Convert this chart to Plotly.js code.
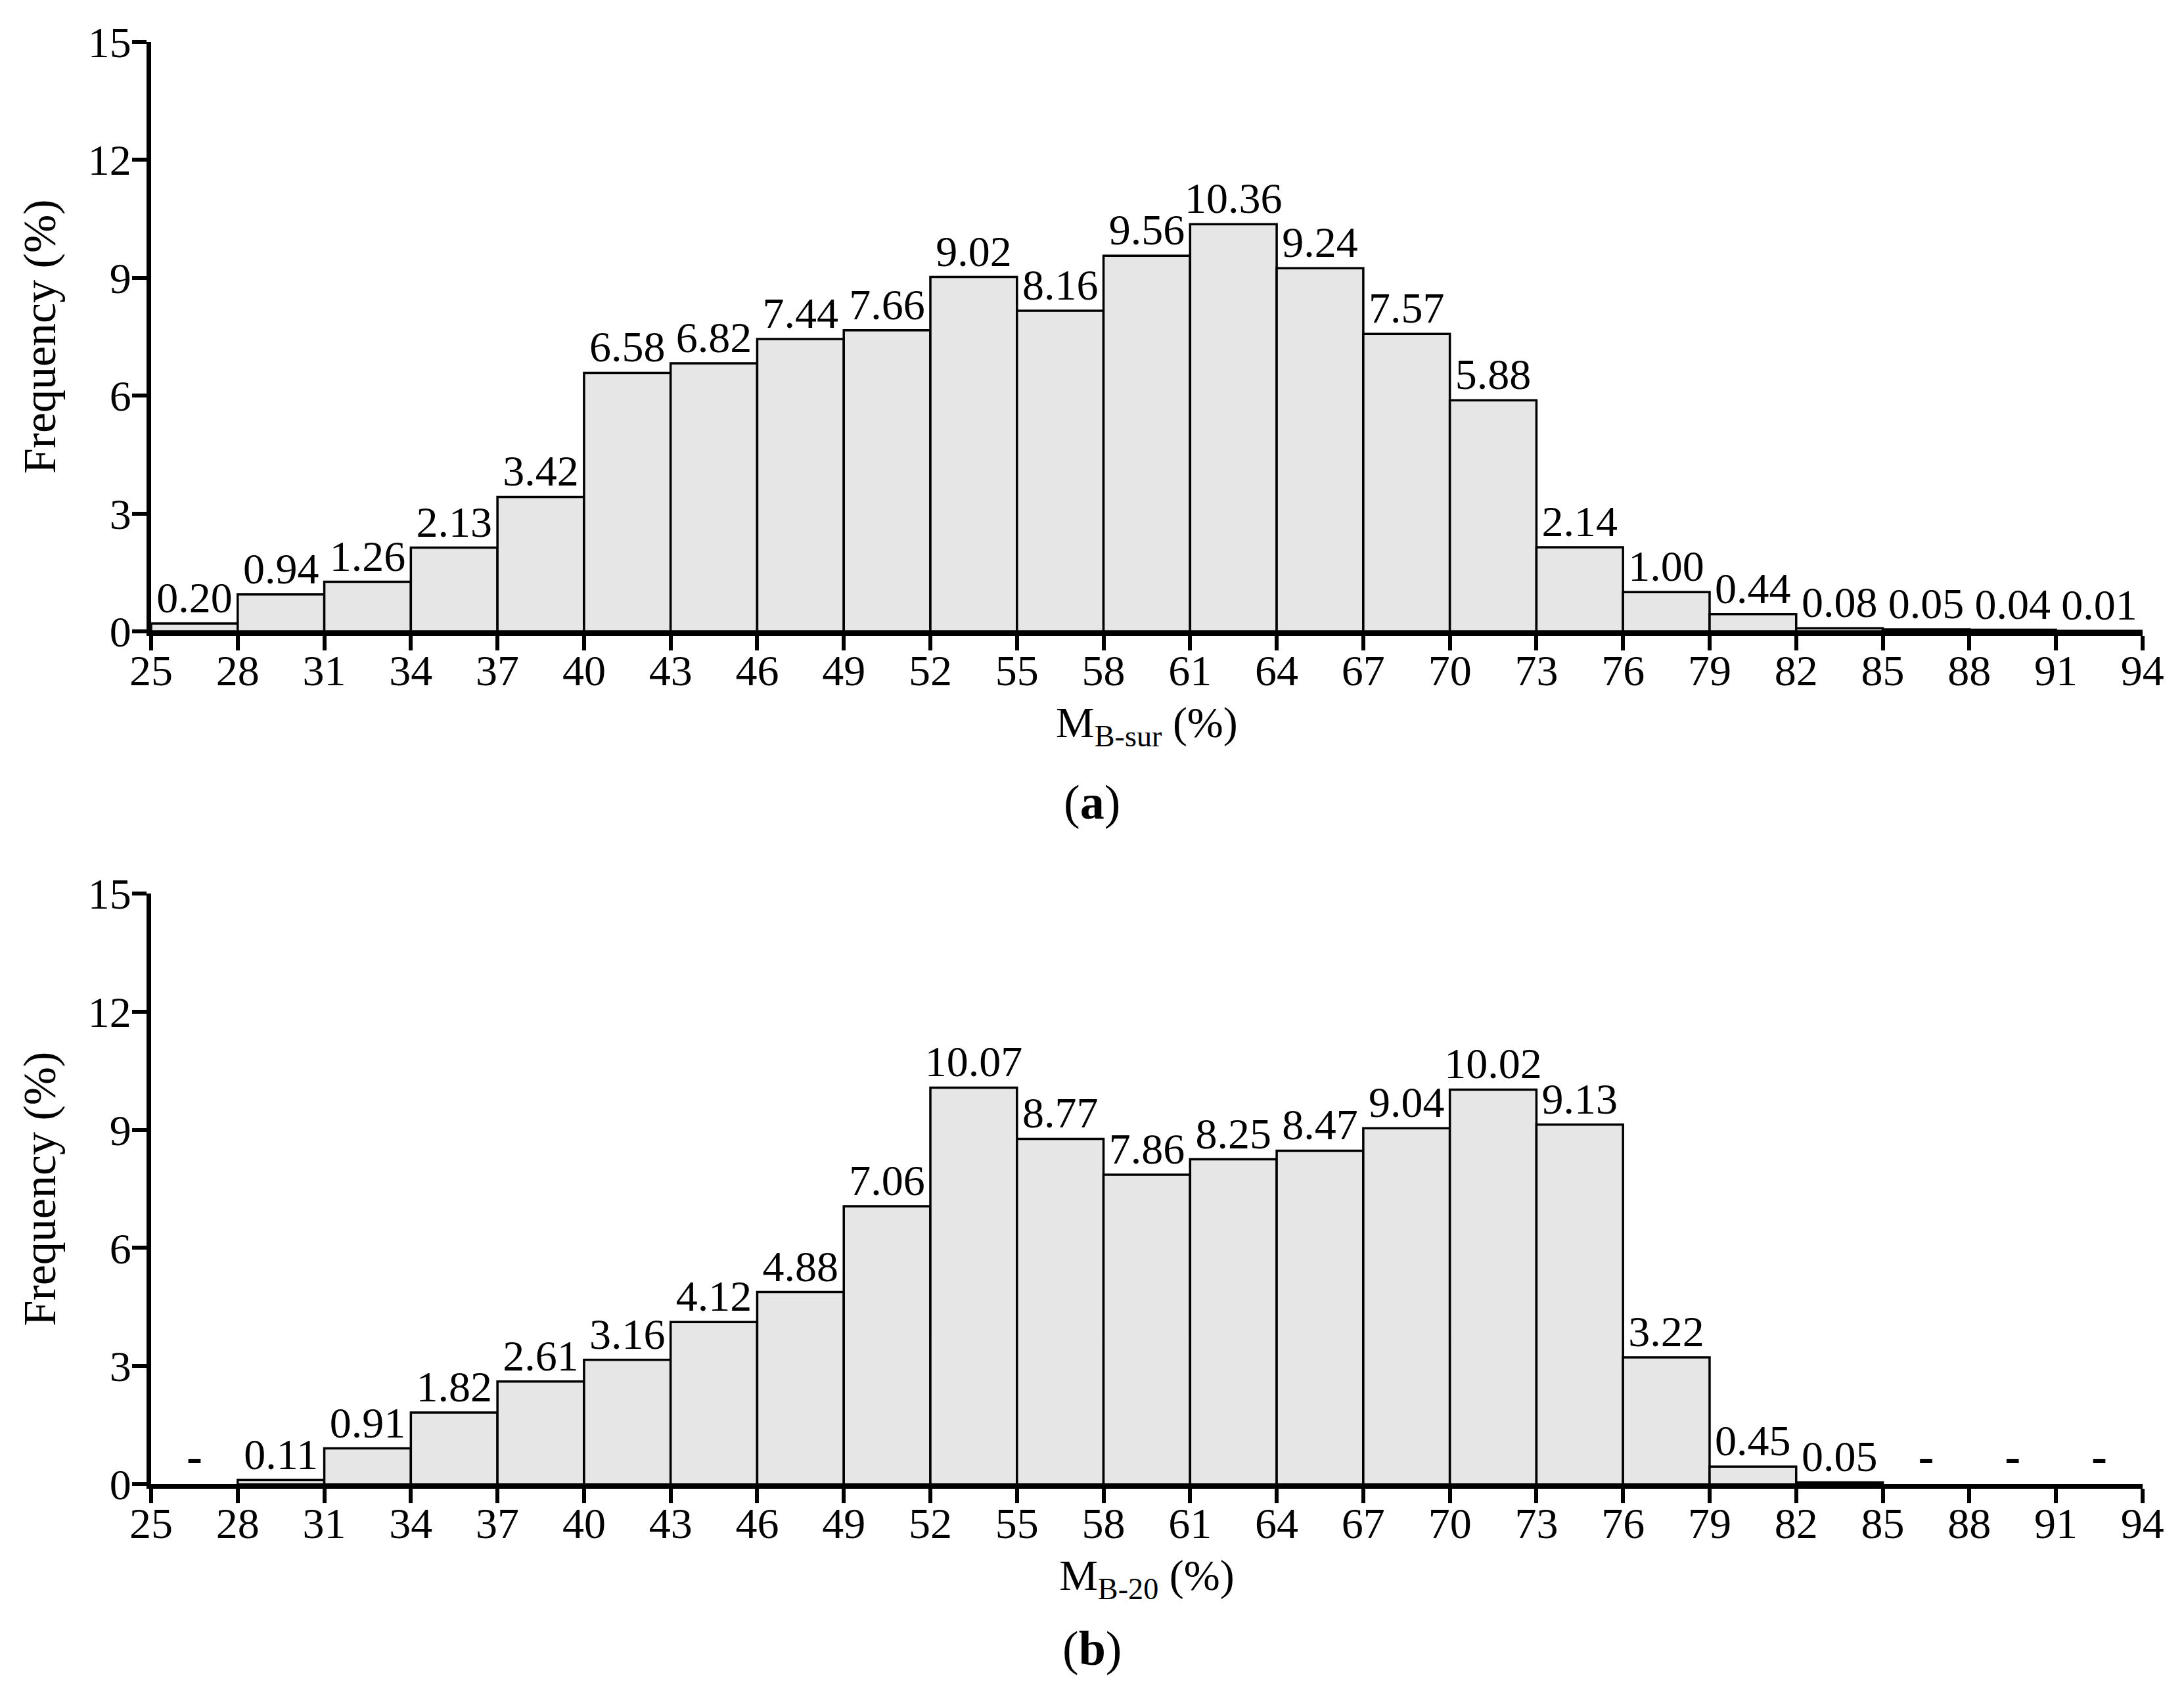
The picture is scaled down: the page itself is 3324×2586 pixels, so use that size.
<!DOCTYPE html>
<html>
<head>
<meta charset="utf-8">
<script src="https://cdn.plot.ly/plotly-3.0.1.min.js"></script>
<style>
  html, body { margin: 0; padding: 0; background: #ffffff; }
  #chart { width: 3324px; height: 2586px; }
</style>
</head>
<body>
<div id="chart"></div>
<script>
// bin left edges (width 3)
const binStarts = [25, 28, 31, 34, 37, 40, 43, 46, 49, 52, 55, 58, 61, 64, 67, 70, 73, 76, 79, 82, 85, 88, 91];
const binWidth = 3;

// (a) M_B-sur
const freqSur = [0.20, 0.94, 1.26, 2.13, 3.42, 6.58, 6.82, 7.44, 7.66, 9.02, 8.16, 9.56,
  10.36, 9.24, 7.57, 5.88, 2.14, 1.00, 0.44, 0.08, 0.05, 0.04, 0.01];

// (b) M_B-20, null = no data ("-")
const freq20 = [null, 0.11, 0.91, 1.82, 2.61, 3.16, 4.12, 4.88, 7.06, 10.07, 8.77, 7.86,
  8.25, 8.47, 9.04, 10.02, 9.13, 3.22, 0.45, 0.05, null, null, null];

const xTicks = [25, 28, 31, 34, 37, 40, 43, 46, 49, 52, 55, 58, 61, 64, 67, 70, 73, 76, 79, 82, 85, 88, 91, 94];
const yTicks = [0, 3, 6, 9, 12, 15];

const FONT = 'Liberation Serif, Times New Roman, serif';
const FS = 66;

function barTrace(vals, xa, ya) {
  const xs = [], ys = [], txt = [];
  vals.forEach((v, i) => {
    if (v == null) return;
    xs.push(binStarts[i]);
    ys.push(v);
    txt.push(v.toFixed(2));
  });
  return {
    type: 'bar',
    x: xs,
    y: ys,
    text: txt,
    textposition: 'outside',
    constraintext: 'none',
    cliponaxis: false,
    textfont: { family: FONT, size: FS, color: '#000' },
    offset: 0,
    width: binWidth,
    marker: { color: '#e6e6e6', line: { color: '#000', width: 3.5 } },
    xaxis: xa,
    yaxis: ya,
    hoverinfo: 'skip',
    showlegend: false,
  };
}

// "-" marks for bins with no data
function dashTrace(vals, xa, ya) {
  const xs = [], ys = [];
  vals.forEach((v, i) => {
    if (v != null) return;
    xs.push(binStarts[i] + binWidth / 2);
    ys.push(0);
  });
  return {
    type: 'scatter',
    mode: 'text',
    x: xs,
    y: ys,
    text: xs.map(() => '<b>-</b>'),
    textposition: 'top center',
    textfont: { family: FONT, size: 72, color: '#000' },
    cliponaxis: false,
    xaxis: xa,
    yaxis: ya,
    hoverinfo: 'skip',
    showlegend: false,
  };
}

function xAxis(anchor, title) {
  return {
    domain: [0.0692, 0.981],
    anchor: anchor,
    range: [25, 94],
    tickvals: xTicks,
    ticks: 'outside',
    ticklen: 22,
    tickwidth: 6,
    tickcolor: '#000',
    ticklabelstandoff: -26,
    showline: true,
    linewidth: 7,
    linecolor: '#000',
    showgrid: false,
    zeroline: false,
    tickfont: { family: FONT, size: FS, color: '#000' },
    title: { text: title, font: { family: FONT, size: FS, color: '#000' }, standoff: 22 },
  };
}

function yAxis(domain, anchor) {
  return {
    domain: domain,
    anchor: anchor,
    range: [0, 15],
    tickvals: yTicks,
    ticks: 'outside',
    ticklen: 22,
    tickwidth: 6,
    tickcolor: '#000',
    ticklabelstandoff: -12,
    showline: true,
    linewidth: 7,
    linecolor: '#000',
    showgrid: false,
    zeroline: false,
    tickfont: { family: FONT, size: FS, color: '#000' },
    title: { text: 'Frequency (%)', font: { family: FONT, size: 70, color: '#000' }, standoff: 29 },
  };
}

const data = [
  barTrace(freqSur, 'x', 'y'),
  barTrace(freq20, 'x2', 'y2'),
  dashTrace(freq20, 'x2', 'y2'),
];

const layout = {
  width: 3324,
  height: 2586,
  margin: { l: 0, r: 0, t: 0, b: 0 },
  paper_bgcolor: '#ffffff',
  plot_bgcolor: '#ffffff',
  bargap: 0,
  font: { family: FONT, size: FS, color: '#000' },
  xaxis: xAxis('y', 'M<sub>B-sur</sub> (%)'),
  yaxis: yAxis([0.6284, 0.9753], 'x'),
  xaxis2: xAxis('y2', 'M<sub>B-20</sub> (%)'),
  yaxis2: yAxis([0.1264, 0.4741], 'x2'),
  annotations: [
    { text: '(<b>a</b>)', xref: 'paper', yref: 'paper', x: 0.5, y: 0.528, showarrow: false,
      font: { family: FONT, size: 74, color: '#000' } },
    { text: '(<b>b</b>)', xref: 'paper', yref: 'paper', x: 0.5, y: 0.013, showarrow: false,
      font: { family: FONT, size: 74, color: '#000' } },
  ],
};

Plotly.newPlot('chart', data, layout, { staticPlot: true });
</script>
</body>
</html>
